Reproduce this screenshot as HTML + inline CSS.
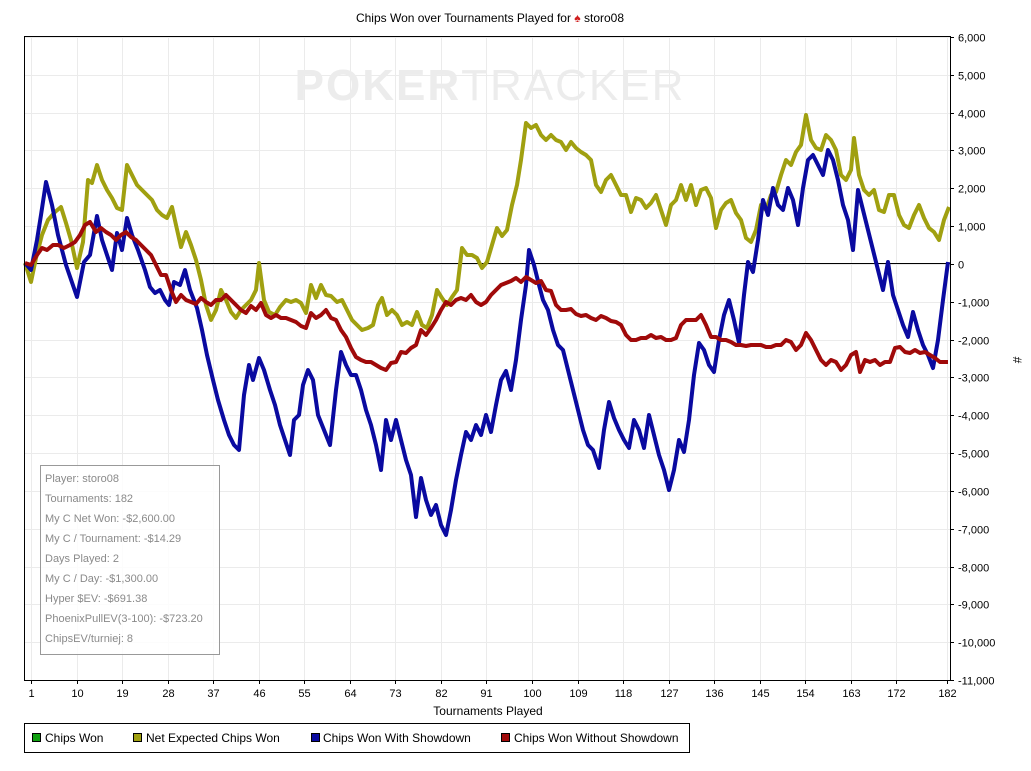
<!DOCTYPE html><html><head><style>body{margin:0;background:#fff}svg{display:block;font-family:"Liberation Sans",sans-serif}</style></head><body>
<svg width="1031" height="771" xmlns="http://www.w3.org/2000/svg">
<rect width="1031" height="771" fill="#fff"/>
<text x="490" y="22" font-size="12" text-anchor="middle">Chips Won over Tournaments Played for <tspan fill="#d02020">♠</tspan> storo08</text>
<g id="grid" stroke="#ebebeb" stroke-width="1"></g>
<text x="490" y="100" font-size="44" font-weight="bold" fill="#ececec" text-anchor="middle" letter-spacing="2">POKER<tspan font-weight="normal">TRACKER</tspan></text>
<line x1="24" y1="263.5" x2="950" y2="263.5" stroke="#000"/>
<g fill="none" stroke-width="4" stroke-linejoin="round">
<polyline stroke="#a0a010" points="25,263 31,282 36,258 42,235 48,220 55,212 61,207 66,223 71,240 77,268 83,242 88,180 92,183 97,165 102,180 107,190 112,198 117,208 122,210 127,165 132,175 137,185 142,190 147,195 152,200 157,210 162,215 167,218 172,207 176,225 181,247 186,232 191,245 196,260 201,280 206,305 211,320 216,310 221,290 226,300 231,312 236,318 241,310 246,305 251,300 256,290 259,263 264,300 269,312 275,315 280,307 286,300 291,302 296,300 301,303 306,313 311,285 316,298 321,285 326,295 331,296 337,302 342,300 347,310 352,320 357,325 362,330 368,328 373,325 378,305 382,298 387,315 392,310 397,315 402,325 407,322 412,325 417,312 422,325 427,328 432,315 437,290 442,298 447,305 452,297 457,290 462,248 467,255 472,255 477,258 482,268 487,262 492,245 497,228 502,236 507,230 512,205 517,185 521,160 526,123 531,128 536,125 541,135 546,140 551,135 556,140 561,142 566,150 571,142 576,148 581,152 586,155 591,160 596,185 601,192 606,180 611,175 616,185 621,195 626,195 631,212 636,198 641,200 646,208 651,203 656,195 661,210 666,225 671,205 676,200 681,185 686,200 691,185 696,205 701,190 706,188 711,198 716,228 721,210 726,203 731,200 736,213 741,220 746,238 751,242 756,230 761,205 766,210 771,195 776,192 781,175 786,160 791,165 796,152 801,145 806,115 811,140 816,148 821,150 826,135 831,140 836,150 841,175 846,180 851,170 854,138 859,175 864,190 869,195 874,190 879,210 884,212 889,195 894,195 899,215 904,225 909,228 914,215 919,205 924,218 929,228 934,232 939,240 944,220 949,207"/>
<polyline stroke="#0a0aa0" points="25,263 31,270 37,240 41,215 46,182 52,205 58,235 66,265 77,297 84,262 90,255 97,216 102,240 107,255 112,270 117,233 122,250 127,218 132,235 138,250 145,270 150,287 155,293 160,290 165,300 169,305 174,282 180,285 185,270 190,290 197,308 202,330 207,355 213,380 218,400 224,420 229,435 234,445 239,450 244,395 249,365 253,380 259,358 264,370 270,390 275,405 280,425 285,440 290,455 294,420 299,415 303,385 308,370 313,380 318,415 324,430 330,445 336,390 341,352 346,365 351,375 356,375 361,390 366,410 371,425 376,445 381,470 386,420 391,440 396,420 401,440 406,460 411,475 416,517 421,478 426,500 431,515 436,505 441,525 446,535 451,510 456,480 461,455 466,432 471,440 476,425 481,435 486,415 491,432 496,405 501,380 506,371 511,390 516,360 521,320 526,285 529,250 534,265 539,285 543,300 548,310 553,330 558,345 563,350 568,370 573,390 578,410 583,430 588,445 593,450 599,468 604,430 609,402 614,418 619,430 624,440 629,448 634,420 639,430 644,448 649,415 654,435 659,455 664,470 669,490 674,470 679,440 684,452 689,420 694,375 699,343 704,350 709,365 714,372 719,340 724,315 729,300 734,320 739,343 744,295 748,262 753,272 758,240 763,200 768,215 773,188 778,205 783,210 788,188 793,200 798,225 803,188 808,160 813,155 818,165 823,175 828,150 833,160 838,180 843,205 848,220 853,250 858,190 863,210 868,230 873,250 878,270 883,290 888,262 893,295 898,310 903,325 908,337 913,312 918,330 923,345 928,355 933,368 938,340 943,300 948,262"/>
<polyline stroke="#a00a0a" points="25,263 31,265 37,255 42,248 47,250 53,245 58,245 64,248 70,245 75,242 80,235 85,225 90,222 96,232 101,228 106,232 111,235 116,240 121,235 126,232 131,237 136,240 141,245 146,250 151,255 156,265 161,275 166,275 171,290 176,302 181,295 186,300 191,302 196,304 201,298 206,302 211,305 216,300 221,300 226,295 231,300 236,305 241,310 246,313 251,306 256,310 261,303 266,315 271,318 276,315 281,318 286,318 291,320 296,322 301,326 306,328 311,313 316,318 321,315 326,310 331,318 336,320 341,330 346,337 351,348 356,357 361,360 366,362 371,362 376,365 381,368 386,370 391,363 396,362 401,352 406,353 411,348 416,345 421,330 426,335 431,328 436,320 441,310 446,302 451,305 456,300 461,298 466,300 471,295 476,302 481,305 486,302 491,295 496,290 501,285 506,283 511,281 516,278 521,282 526,277 531,280 536,283 541,281 546,290 551,291 556,305 561,310 566,310 571,309 576,314 581,316 586,315 591,318 596,320 601,316 606,318 611,321 616,322 621,325 626,335 631,340 636,340 641,338 646,338 651,335 656,338 661,337 666,340 671,340 676,338 681,325 686,320 691,320 696,320 701,315 706,325 711,337 716,337 721,340 726,340 731,342 736,345 741,345 746,346 751,345 756,345 761,345 766,347 771,347 776,345 781,345 786,340 791,342 796,350 801,345 806,333 811,340 816,350 821,360 826,365 831,360 836,362 841,370 846,365 851,355 856,352 860,372 865,360 870,362 875,360 880,365 885,362 890,362 895,348 900,347 905,352 910,353 915,350 920,353 925,352 930,355 935,358 940,362 948,362"/>
</g>
<rect x="24.5" y="36.5" width="926" height="644" fill="none" stroke="#000"/>
<g id="ticks" font-size="11" fill="#000"></g>
<text x="488" y="715" font-size="12" text-anchor="middle">Tournaments Played</text>
<text x="1013" y="360" font-size="12" transform="rotate(90 1013 360)" text-anchor="middle">#</text>
<rect x="40.5" y="465.5" width="179" height="189" fill="#fff" fill-opacity="0.85" stroke="#999"/>
<g font-size="11" fill="#8a8a8a">
<text x="45" y="482">Player: storo08</text><text x="45" y="502">Tournaments: 182</text><text x="45" y="522">My C Net Won: -$2,600.00</text><text x="45" y="542">My C / Tournament: -$14.29</text><text x="45" y="562">Days Played: 2</text><text x="45" y="582">My C / Day: -$1,300.00</text><text x="45" y="602">Hyper $EV: -$691.38</text><text x="45" y="622">PhoenixPullEV(3-100): -$723.20</text><text x="45" y="642">ChipsEV/turniej: 8</text>
</g>
<rect x="24.5" y="723.5" width="665" height="29" fill="#fff" stroke="#000"/>
<g font-size="12">
<rect x="32.5" y="733.5" width="8" height="8" fill="#10a010" stroke="#000"/><text x="45" y="742">Chips Won</text>
<rect x="133.5" y="733.5" width="8" height="8" fill="#a0a010" stroke="#000"/><text x="146" y="742">Net Expected Chips Won</text>
<rect x="311.5" y="733.5" width="8" height="8" fill="#0a0aa0" stroke="#000"/><text x="323" y="742">Chips Won With Showdown</text>
<rect x="501.5" y="733.5" width="8" height="8" fill="#a00a0a" stroke="#000"/><text x="514" y="742">Chips Won Without Showdown</text>
</g>
<script>
var ns="http://www.w3.org/2000/svg",g=document.getElementById('grid'),t=document.getElementById('ticks');
function el(p,tag,a,txt){var e=document.createElementNS(ns,tag);for(var k in a)e.setAttribute(k,a[k]);if(txt!==undefined)e.textContent=txt;p.appendChild(e);return e;}
for(var k=0;k<=17;k++){var y=37+k*643/17,v=6000-k*1000;y=Math.round(y)+0.5;
el(g,'line',{x1:25,x2:950,y1:y,y2:y});
el(t,'line',{x1:950,x2:954,y1:y,y2:y,stroke:'#000'});
el(t,'text',{x:958,y:y+4},v.toLocaleString('en-US'));}
for(var i=0;i<=20;i++){var n=i<20?1+9*i:182,x=Math.round(31+(n-1)*916/181)+0.5;
el(g,'line',{x1:x,x2:x,y1:37,y2:680});
el(t,'line',{x1:x,x2:x,y1:680,y2:684,stroke:'#000'});
el(t,'text',{x:x,y:697,'text-anchor':'middle'},n);}
</script>
</svg></body></html>
